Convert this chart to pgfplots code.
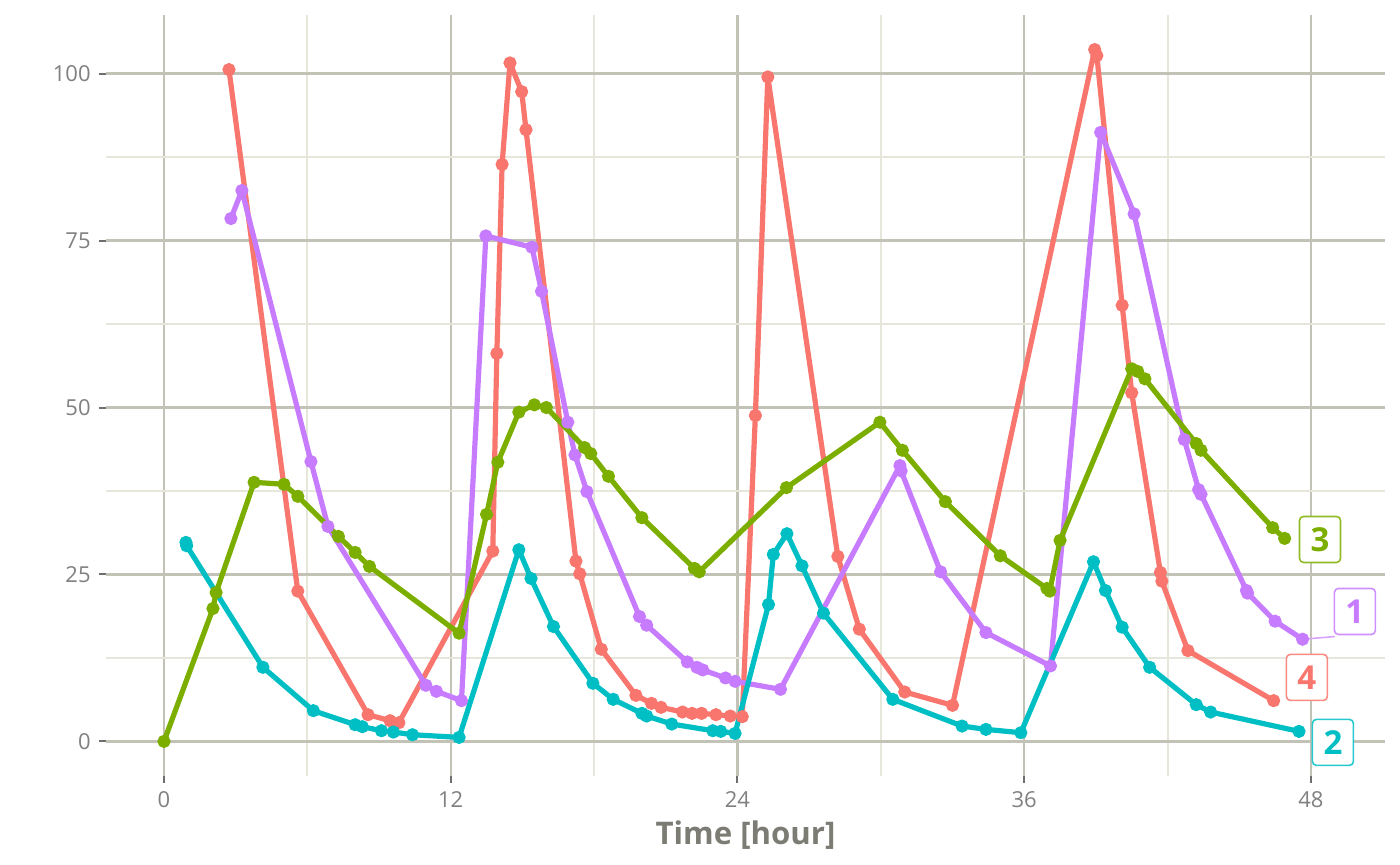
\documentclass[border=0pt]{standalone}
\usepackage{pgfplots}
\pgfplotsset{compat=1.18}
\usepackage{fontspec}
\setmainfont{Open Sans}
\definecolor{cR}{HTML}{F8766D}
\definecolor{cG}{HTML}{7CAE00}
\definecolor{cC}{HTML}{00BFC4}
\definecolor{cP}{HTML}{C77CFF}
\definecolor{majgrid}{HTML}{C2C2B6}
\definecolor{mingrid}{HTML}{E6E6DA}
\definecolor{tickgray}{HTML}{808080}
\definecolor{titlegray}{HTML}{7C7C74}
\definecolor{tickmark}{HTML}{6E6E6E}
\begin{document}
\begin{tikzpicture}
\begin{axis}[
  at={(0,0)}, anchor=south west,
  scale only axis, width=639.5pt, height=380.5pt,
  xmin=-2.427, xmax=51.1, ymin=-5.18, ymax=108.78,
  axis line style={draw=none},
  xtick={0,12,24,36,48}, ytick={0,25,50,75,100},
  minor xtick={6,18,30,42}, minor ytick={12.5,37.5,62.5,87.5},
  xtick pos=bottom, ytick pos=left,
  tick align=outside, major tick length=3.5pt, minor tick length=0pt,
  major tick style={color=tickmark, line width=1pt},
  grid=both,
  major grid style={color=majgrid, line width=1.2pt},
  minor grid style={color=mingrid, line width=1pt},
  /pgf/number format/assume math mode=true,
  xticklabel style={font=\fontsize{11}{13}\selectfont, text=tickgray, anchor=north, inner sep=0pt, yshift=-4pt},
  yticklabel style={font=\fontsize{11}{13}\selectfont, text=tickgray, anchor=east, inner sep=0pt, xshift=-4pt},
  xlabel={Time [hour]},
  xlabel style={at={(axis description cs:0.5,0)}, anchor=center, yshift=-29.5pt, font=\fontsize{15.6}{18}\selectfont\bfseries, text=titlegray},
  clip=false,
  every axis plot/.append style={line width=2.6pt, mark=*, mark size=2.8pt, line join=round},
]
% 4 (red)
\addplot[cR, mark options={fill=cR, draw=cR, line width=1pt}] coordinates {
(2.72,100.6)(5.6,22.5)(8.54,4.0)(9.46,3.1)(9.83,2.8)(13.76,28.5)(13.93,58.1)(14.15,86.4)
(14.48,101.6)(14.97,97.3)(15.15,91.6)(17.24,27.0)(17.4,25.1)(18.3,13.8)(19.75,6.9)(20.4,5.7)
(20.8,5.1)(21.7,4.4)(22.1,4.2)(22.5,4.2)(23.1,4.0)(23.7,3.8)(24.2,3.7)(24.75,48.8)(25.27,99.5)
(28.2,27.7)(29.1,16.8)(31.0,7.4)(33.0,5.4)(38.95,103.6)(39.04,102.7)(40.1,65.3)(40.5,52.2)
(41.7,25.3)(41.76,24.0)(42.85,13.6)(46.44,6.1)};
% 1 (purple)
\addplot[cP, mark options={fill=cP, draw=cP, line width=1pt}] coordinates {
(2.8,78.3)(3.26,82.5)(6.15,41.9)(6.86,32.2)(10.96,8.4)(11.4,7.5)(12.45,6.1)(13.47,75.7)
(15.4,74.0)(15.8,67.4)(16.9,47.8)(17.2,42.9)(17.7,37.4)(19.9,18.7)(20.2,17.4)(21.9,11.9)
(22.3,11.1)(22.55,10.7)(23.5,9.5)(23.9,9.0)(25.8,7.8)(30.8,41.3)(30.85,40.5)(32.5,25.4)
(34.4,16.3)(37.1,11.3)(39.2,91.2)(40.6,79.0)(42.7,45.2)(43.3,37.7)(43.4,37.0)(45.3,22.6)
(45.35,22.2)(46.5,18.0)(47.65,15.3)};
% 2 (cyan)
\addplot[cC, mark options={fill=cC, draw=cC, line width=1pt}] coordinates {
(0.92,29.8)(0.95,29.3)(4.14,11.1)(6.25,4.6)(8.0,2.5)(8.3,2.2)(9.1,1.6)(9.6,1.4)(10.4,1.0)
(12.35,0.6)(14.85,28.7)(15.36,24.4)(16.3,17.2)(17.95,8.7)(18.8,6.3)(20.0,4.2)(20.2,3.8)
(21.25,2.6)(22.97,1.6)(23.3,1.5)(23.9,1.2)(25.3,20.5)(25.5,28.0)(26.07,31.1)(26.7,26.3)
(27.6,19.2)(30.5,6.3)(33.4,2.3)(34.4,1.8)(35.86,1.3)(38.9,26.9)(39.4,22.6)(40.1,17.1)
(41.25,11.1)(43.2,5.5)(43.8,4.4)(47.5,1.5)};
% 3 (green)
\addplot[cG, mark options={fill=cG, draw=cG, line width=1pt}] coordinates {
(0,0)(2.05,19.9)(2.18,22.3)(3.77,38.8)(5.02,38.5)(5.6,36.7)(7.3,30.7)(8.0,28.3)(8.6,26.2)
(12.35,16.2)(13.5,34.0)(13.97,41.8)(14.85,49.3)(15.5,50.4)(16.0,50.0)(17.6,44.0)(17.86,43.1)
(18.6,39.7)(20.0,33.5)(22.2,25.9)(22.4,25.4)(26.05,38.0)(29.96,47.8)(30.9,43.6)(32.7,35.9)
(35.0,27.8)(36.95,22.9)(37.07,22.5)(37.5,30.1)(40.5,55.8)(40.75,55.4)(41.05,54.3)(43.2,44.6)
(43.4,43.6)(46.4,32.0)(46.9,30.4)};
% connector for label 1
\addplot[cP!70, line width=0.8pt, mark=none] coordinates {(47.65,15.3)(49.0,15.7)};
% labels
\tikzset{lab/.style={draw=#1!85, line width=0.8pt, fill=white, rounded corners=2pt,
  minimum width=20.5pt, minimum height=23pt, inner sep=0pt, text=#1,
  font=\fontsize{16.5}{18}\selectfont\bfseries}}
\node[lab=cG] at (axis cs:48.38,30.24) {3};
\node[lab=cP] at (axis cs:49.84,19.46) {1};
\node[lab=cR] at (axis cs:47.83,9.58) {4};
\node[lab=cC] at (axis cs:48.92,-0.15) {2};
\end{axis}
\path (-53pt,-44.5pt) rectangle (647pt,388pt);
\end{tikzpicture}
\end{document}
